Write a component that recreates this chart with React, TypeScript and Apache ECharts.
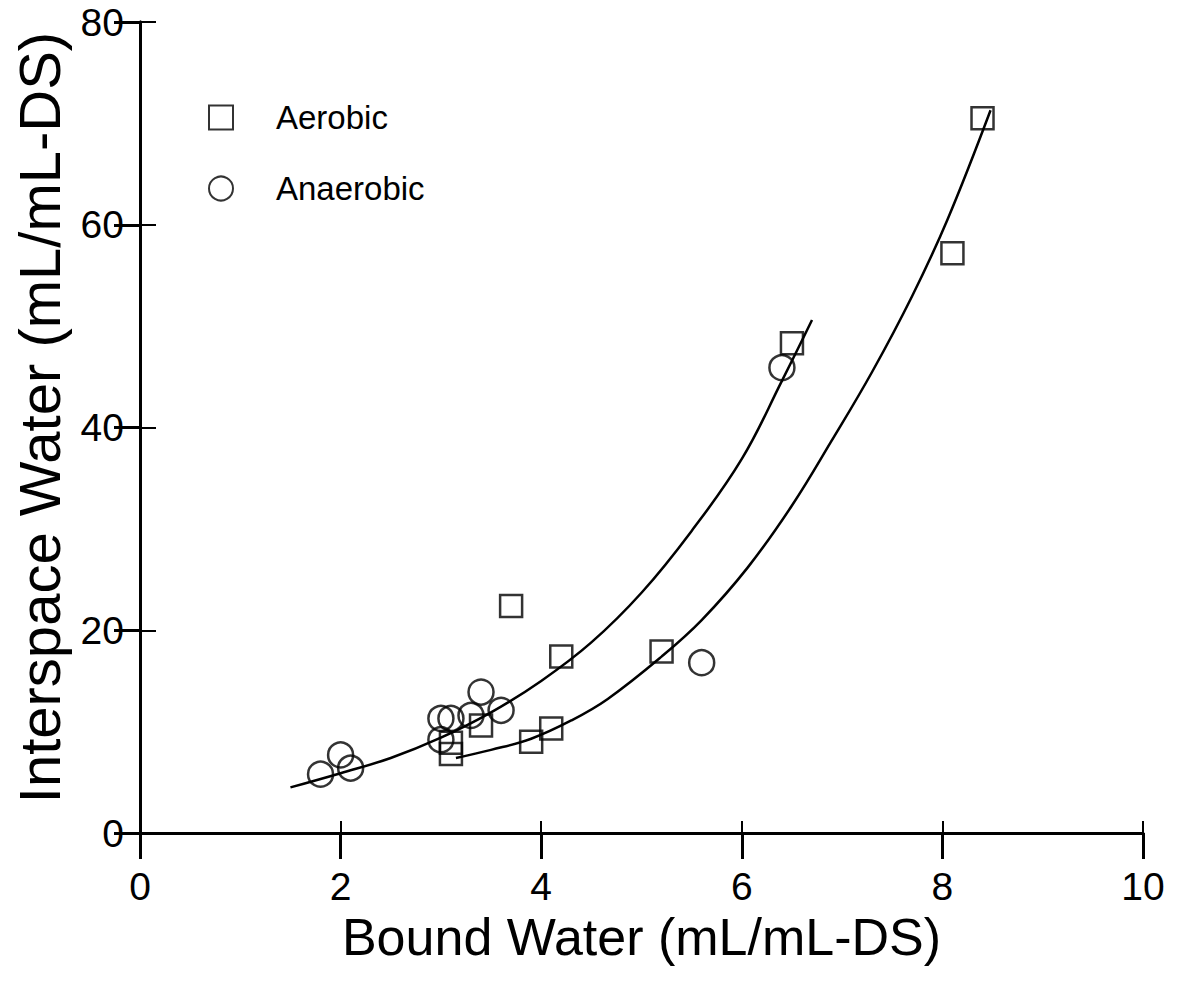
import React, { useEffect, useRef } from "react";
import * as echarts from "echarts";

const xTicks = [0, 2, 4, 6, 8, 10];
const yTicks = [0, 20, 40, 60, 80];

const aerobicX = [8.4, 8.1, 6.5, 3.7, 4.2, 5.2, 3.4, 3.1, 3.1, 3.9, 4.1];
const aerobicY = [70.5, 57.2, 48.3, 22.4, 17.4, 17.9, 10.6, 8.9, 7.8, 9.0, 10.3];

const anaerobicX = [6.4, 5.6, 1.8, 2.0, 2.1, 3.0, 3.1, 3.0, 3.4, 3.3, 3.6];
const anaerobicY = [45.9, 16.8, 5.8, 7.7, 6.4, 11.3, 11.3, 9.2, 13.9, 11.6, 12.1];

const upperCurveX = [1.5, 2.0, 2.5, 3.0, 3.5, 4.0, 4.5, 5.0, 5.5, 6.0, 6.4, 6.7];
const upperCurveY = [4.5, 5.9, 7.4, 9.4, 11.9, 15.0, 18.8, 23.7, 29.8, 36.9, 44.6, 50.6];

const lowerCurveX = [3.15, 3.5, 3.9, 4.3, 4.66, 5.2, 5.6, 6.06, 6.5, 6.89, 7.3, 7.7, 8.05, 8.48];
const lowerCurveY = [7.4, 8.2, 9.3, 11.1, 13.2, 17.4, 21.0, 26.2, 32.3, 38.6, 45.5, 53.0, 60.5, 71.3];

const zip = (xs: number[], ys: number[]) => xs.map((x, i) => [x, ys[i]]);

const FONT = "Liberation Sans";

export default function App() {
  const ref = useRef<HTMLDivElement>(null);
  useEffect(() => {
    if (!ref.current) return;
    const chart = echarts.init(ref.current, null, { renderer: "svg" });
    const axisLine = { show: true, lineStyle: { color: "#000", width: 3 } };
    chart.setOption({
      animation: false,
      backgroundColor: "#fff",
      grid: { left: 140, right: 38, top: 22, bottom: 148, outerBoundsMode: "none", containLabel: false },
      legend: {
        data: ["Aerobic", "Anaerobic"],
        orient: "vertical",
        left: 203,
        top: 96,
        itemWidth: 24,
        itemHeight: 24,
        itemGap: 38,
        textStyle: { fontFamily: FONT, fontSize: 33, color: "#000", padding: [0, 0, 0, 38] },
      },
      xAxis: [
        {
          type: "value",
          min: xTicks[0],
          max: xTicks[xTicks.length - 1],
          interval: 2,
          position: "bottom",
          axisLine,
          axisTick: { show: true, inside: true, length: 12, lineStyle: { color: "#000", width: 2 } },
          axisLabel: { fontFamily: FONT, fontSize: 39, color: "#000", margin: 34 },
          splitLine: { show: false },
          name: "Bound Water (mL/mL-DS)",
          nameLocation: "middle",
          nameGap: 78,
          nameTextStyle: { fontFamily: FONT, fontSize: 52, color: "#000" },
        },
        {
          type: "value",
          min: xTicks[0],
          max: xTicks[xTicks.length - 1],
          interval: 2,
          position: "top",
          axisLine,
          axisTick: { show: true, inside: true, length: 26, lineStyle: { color: "#000", width: 3 } },
          axisLabel: { show: false },
          splitLine: { show: false },
        },
      ],
      yAxis: [
        {
          type: "value",
          min: yTicks[0],
          max: yTicks[yTicks.length - 1],
          interval: 20,
          position: "left",
          axisLine,
          axisTick: { show: true, inside: true, length: 16, lineStyle: { color: "#000", width: 2 } },
          axisLabel: { fontFamily: FONT, fontSize: 39, color: "#000", margin: 16 },
          splitLine: { show: false },
          name: "Interspace Water (mL/mL-DS)",
          nameLocation: "middle",
          nameGap: 72,
          nameTextStyle: { fontFamily: FONT, fontSize: 58, color: "#000", padding: [0, 0, 0, 20] },
        },
        {
          type: "value",
          min: yTicks[0],
          max: yTicks[yTicks.length - 1],
          interval: 20,
          position: "right",
          axisLine,
          axisTick: { show: true, inside: true, length: 26, lineStyle: { color: "#000", width: 3 } },
          axisLabel: { show: false },
          splitLine: { show: false },
        },
      ],
      series: [
        {
          name: "Upper fit",
          type: "line",
          data: zip(upperCurveX, upperCurveY),
          smooth: 0.4,
          showSymbol: false,
          lineStyle: { color: "#000", width: 2.5 },
          z: 1,
        },
        {
          name: "Lower fit",
          type: "line",
          data: zip(lowerCurveX, lowerCurveY),
          smooth: 0.4,
          showSymbol: false,
          lineStyle: { color: "#000", width: 2.5 },
          z: 1,
        },
        {
          name: "Aerobic",
          type: "scatter",
          symbol: "rect",
          symbolSize: 22,
          data: zip(aerobicX, aerobicY),
          itemStyle: { color: "rgba(0,0,0,0)", borderColor: "#000", borderWidth: 2.5 },
          z: 3,
        },
        {
          name: "Anaerobic",
          type: "scatter",
          symbol: "circle",
          symbolSize: 25,
          data: zip(anaerobicX, anaerobicY),
          itemStyle: { color: "rgba(0,0,0,0)", borderColor: "#000", borderWidth: 2.5 },
          z: 3,
        },
      ],
    });
    return () => chart.dispose();
  }, []);
  return <div ref={ref} style={{ width: 1181, height: 981, margin: -8 }} />;
}
